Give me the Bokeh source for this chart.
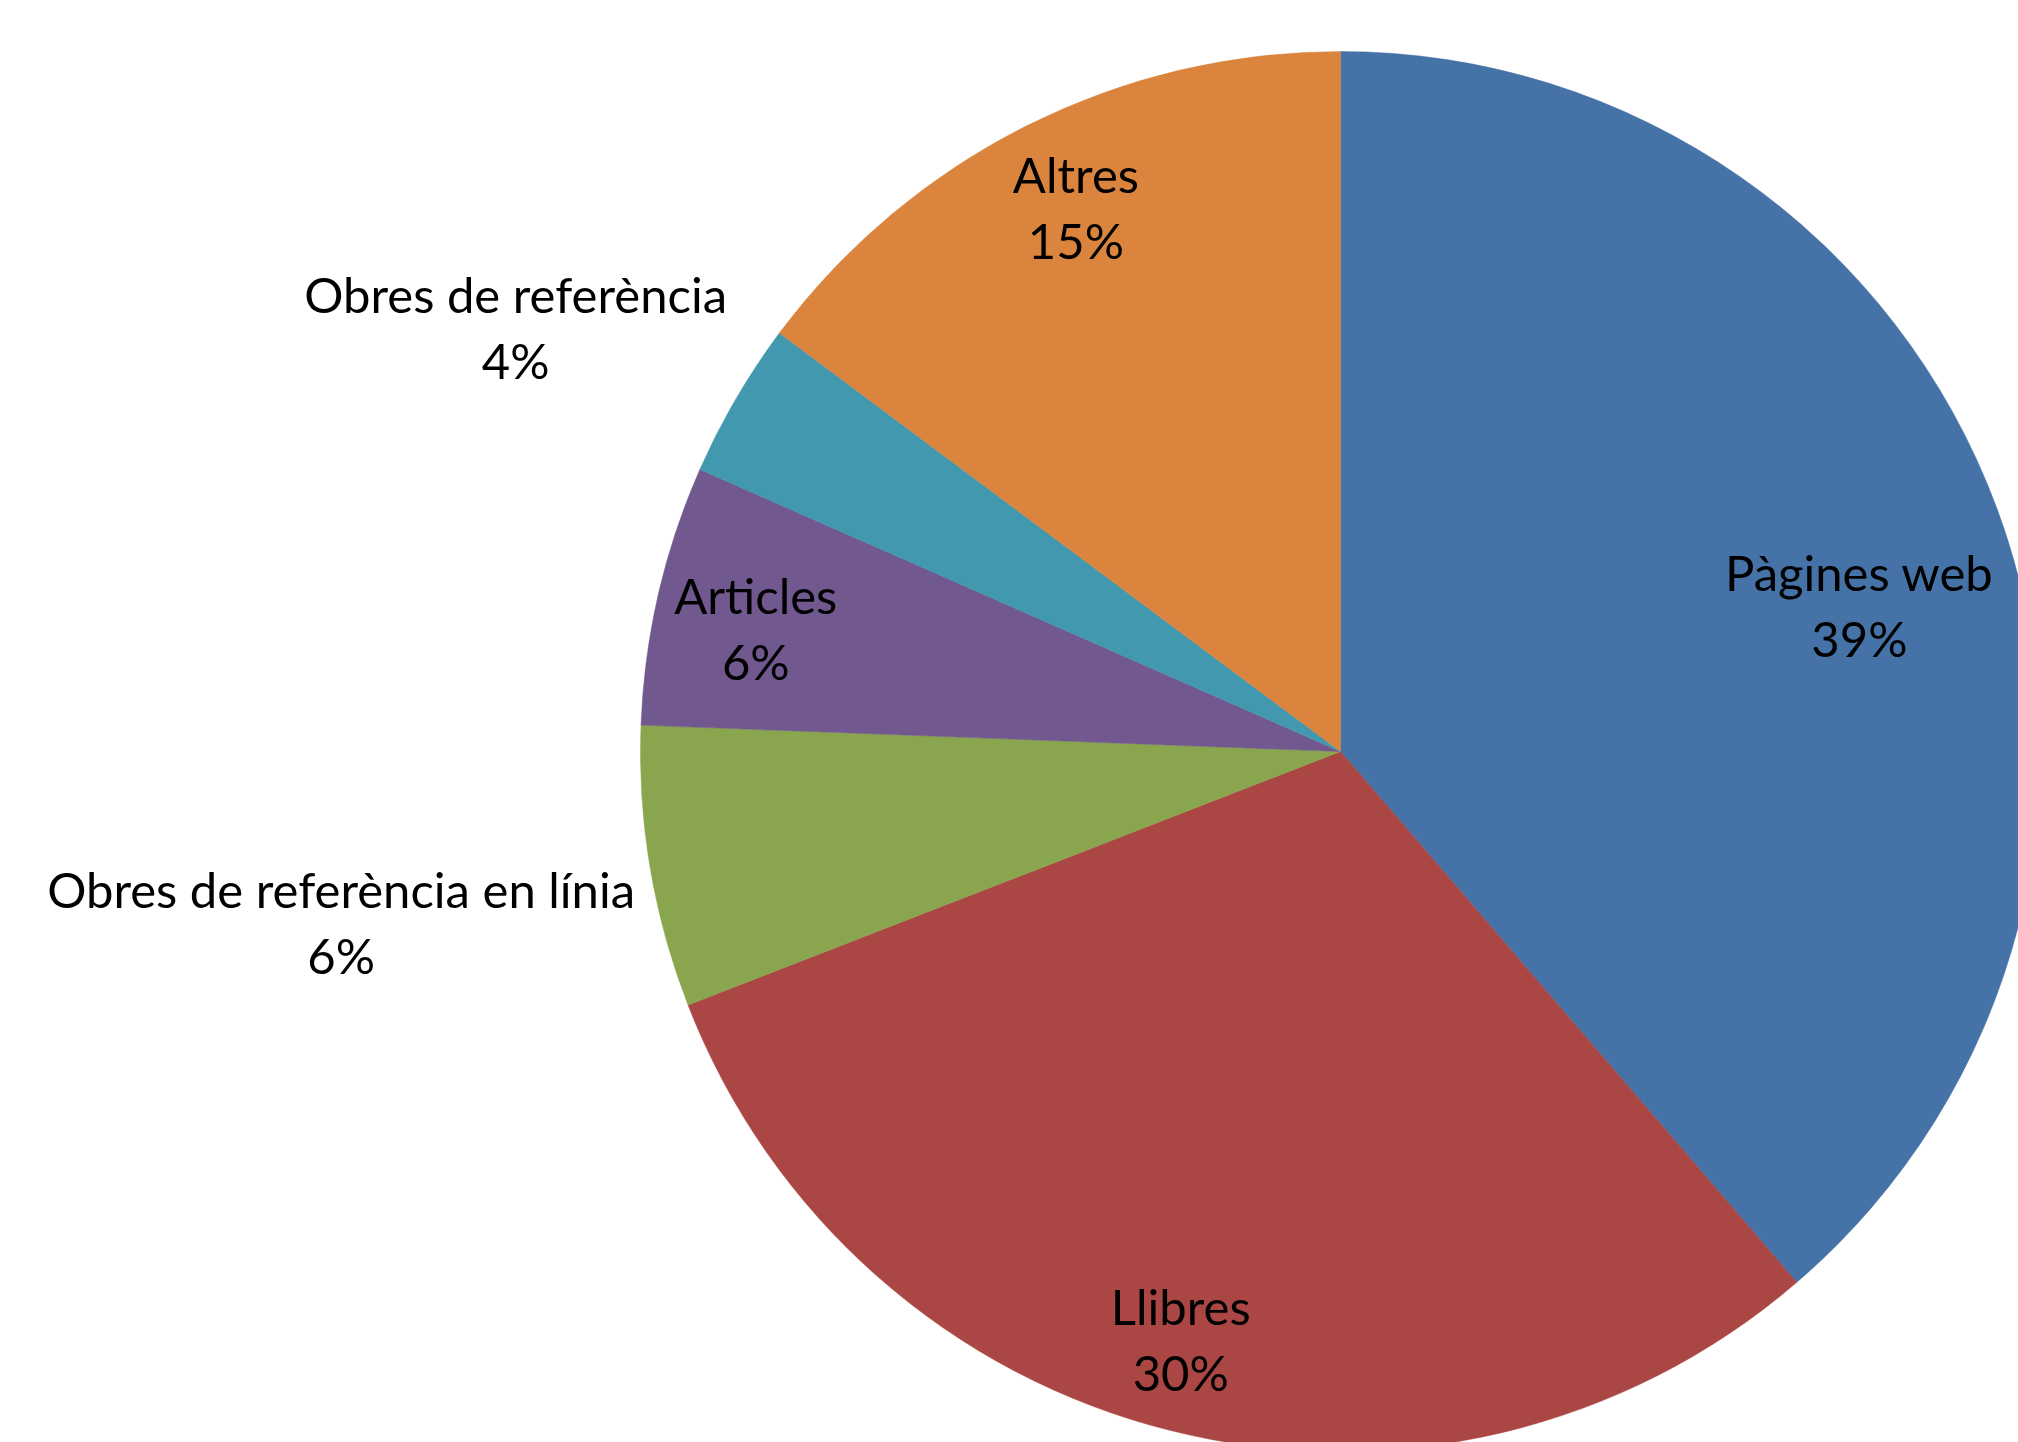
import math
from bokeh.plotting import figure
from bokeh.models import Range1d, ColumnDataSource
from bokeh.core.properties import value
from bokeh.embed import file_html
from bokeh.resources import INLINE

# ---- data ----
categories = ["Pàgines web", "Llibres", "Obres de referència en línia",
              "Articles", "Obres de referència", "Altres"]
shares = [38.7, 30.4, 6.5, 6.0, 3.6, 14.8]
pct_labels = ["39%", "30%", "6%", "6%", "4%", "15%"]

# ---- style / layout ----
colors = ["#4572A7", "#AA4643", "#89A54E", "#71588F", "#4198AF", "#DB843D"]
label_radius = [0.769, 0.874, 1.449, 0.853, 1.323, 0.861]   # fraction of pie radius
label_shift = [4.9, 1.1, -0.3, -1.3, -3.2, 0.6]             # degrees, clockwise

W, H = 2018, 1442
CX, CY = 1340, H - 751
R = 700
FONT = "Lato"
FS = "49px"
LINE = 33
RAISE = 3

p = figure(width=W, height=H, output_backend="svg", toolbar_location=None,
           x_range=Range1d(0, W), y_range=Range1d(0, H), min_border=0)
p.axis.visible = False
p.grid.visible = False
p.outline_line_color = None
p.background_fill_color = "white"
p.border_fill_color = "white"

total = sum(shares)
starts, ends, mids = [], [], []
acc = 0.0
for s in shares:
    a0 = acc / total * 360.0
    acc += s
    a1 = acc / total * 360.0
    starts.append(math.radians(90 - a0))
    ends.append(math.radians(90 - a1))
    mids.append((a0 + a1) / 2)

src = ColumnDataSource(dict(start=starts, end=ends, color=colors,
                            x=[CX] * len(shares), y=[CY] * len(shares)))
p.wedge(x="x", y="y", radius=R, start_angle="start", end_angle="end",
        direction="clock", fill_color="color", line_color="color", line_width=0.5,
        source=src)

lx, ly = [], []
for m, f, d in zip(mids, label_radius, label_shift):
    th = math.radians(m + d)
    lx.append(CX + f * R * math.sin(th))
    ly.append(CY + f * R * math.cos(th))

lsrc = ColumnDataSource(dict(x=lx, y=ly, name=categories, pct=pct_labels))
p.text(x="x", y="y", text="name", source=lsrc, y_offset=-LINE - RAISE,
       text_align="center", text_baseline="middle", text_color="black",
       text_font=value(FONT), text_font_size=FS)
p.text(x="x", y="y", text="pct", source=lsrc, y_offset=LINE - RAISE,
       text_align="center", text_baseline="middle", text_color="black",
       text_font=value(FONT), text_font_size=FS)

open("out.html", "w").write(file_html(p, INLINE))
